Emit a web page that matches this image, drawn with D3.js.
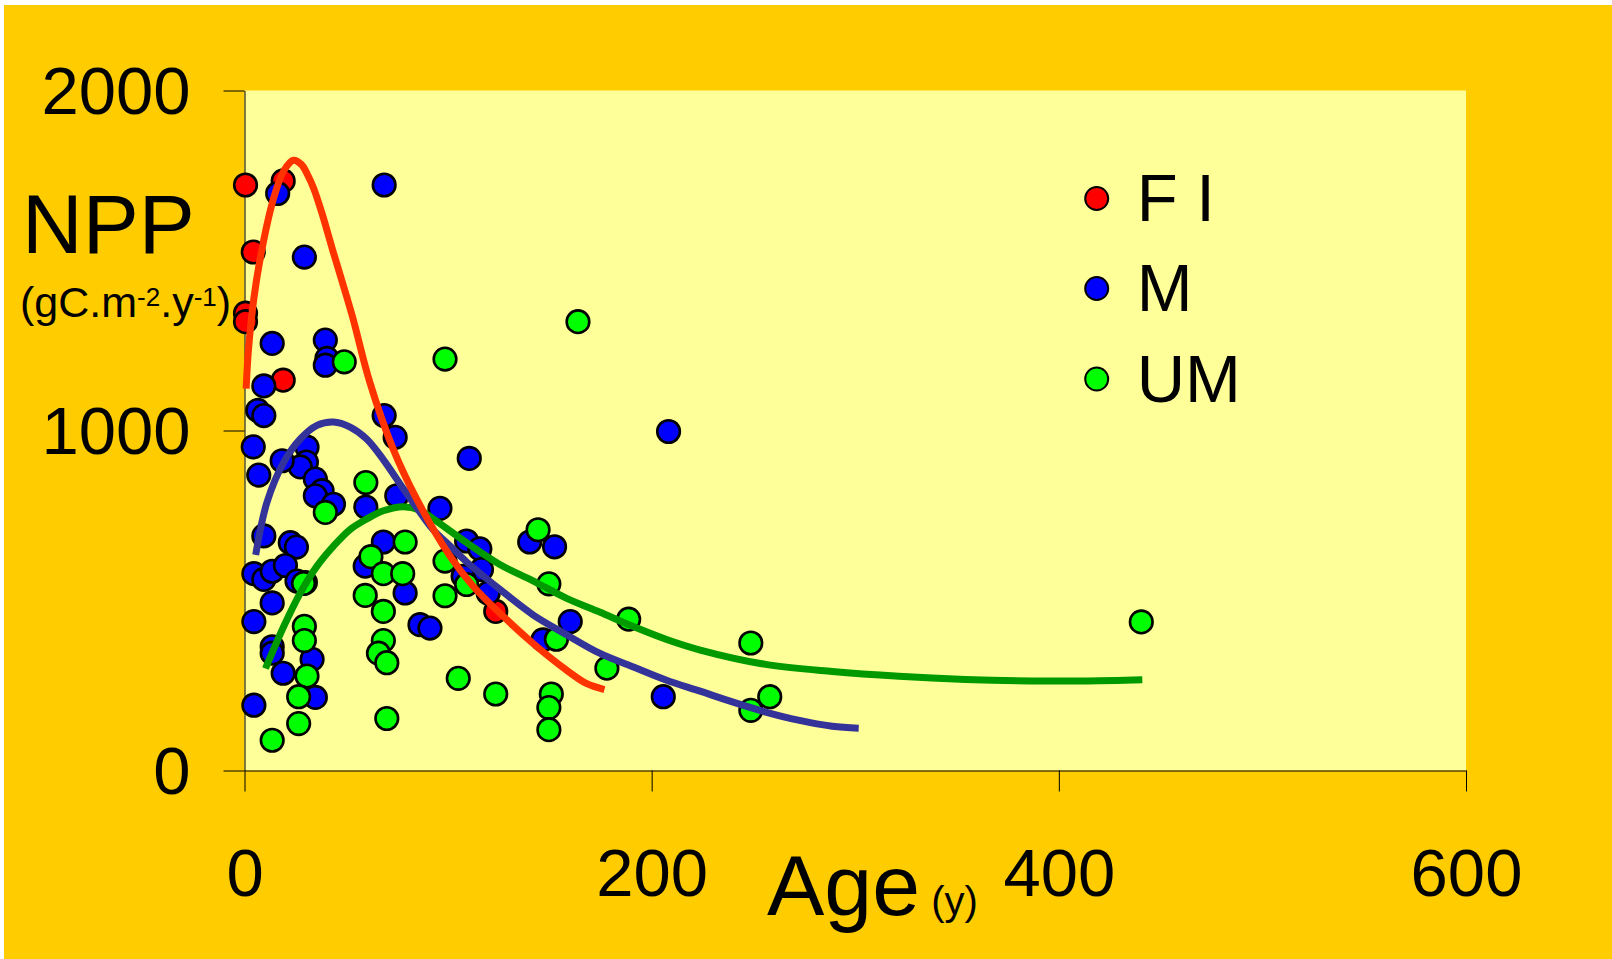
<!DOCTYPE html>
<html>
<head>
<meta charset="utf-8">
<script src="https://cdn.jsdelivr.net/npm/d3@7/dist/d3.min.js"></script>
<style>
  html, body { margin: 0; padding: 0; background: #ffffff; }
  svg { display: block; }
  text { font-family: "Liberation Sans", Arial, sans-serif; fill: #000; }
</style>
</head>
<body>
<svg id="chart" width="1612" height="959"></svg>
<script>
// ---------- data (age in years, NPP in gC.m-2.y-1) ----------
const seriesNames = ["F I", "M", "UM"];

const fiPoints = [
  [0.5, 1722], [19, 1734], [4.3, 1525], [0.5, 1345], [0.5, 1320], [19, 1148], [123.4, 468]
];

const mPoints = [
  [16.3, 1697], [68.6, 1722], [29.4, 1510], [13.6, 1256], [39.7, 1266], [40.5, 1212],
  [39.7, 1192], [9.5, 1131], [6.5, 1059], [9.5, 1044], [68.6, 1044], [74, 980],
  [4.3, 952], [30.7, 951], [30.4, 907], [27.4, 893], [18.5, 911], [7, 869],
  [34.8, 857], [38.1, 823], [34.8, 808], [43.7, 783], [110.4, 918], [59.6, 775],
  [74.8, 808], [96, 771], [208.3, 997], [9.5, 690], [22.5, 670], [25.5, 657],
  [4.6, 579], [9.5, 562], [13.6, 586], [20.1, 603], [25.8, 557], [29.9, 553],
  [13.6, 493], [4.6, 438], [13.6, 364], [13.6, 345], [19, 286], [33.2, 327],
  [34.8, 215], [4.6, 192], [68.2, 672], [59.3, 601], [78.9, 522], [86.2, 429],
  [91.1, 419], [109.1, 675], [115.6, 652], [116.4, 591], [107.4, 571], [119.7, 522],
  [140.1, 672], [152.3, 658], [160, 438], [146.6, 384], [205.7, 217]
];

const umPoints = [
  [49, 1202], [98.5, 1210], [163.8, 1320], [59.6, 847], [39.7, 759], [29, 550],
  [29.4, 424], [29.4, 382], [30.7, 278], [26.6, 217], [26.6, 138], [13.6, 89],
  [69.9, 153], [78.9, 672], [62.1, 629], [68.2, 579], [77.7, 579], [59.3, 515],
  [68.2, 468], [68.2, 382], [65.8, 345], [69.9, 317], [105, 271], [98.5, 616],
  [98.5, 514], [109.1, 547], [123.4, 225], [144.2, 708], [149.5, 549], [153.2, 386],
  [188.7, 445], [248.7, 375], [178, 301], [258, 217], [248.7, 177], [150.7, 225],
  [149.5, 185], [149.5, 120], [440.5, 437]
];

// fitted curves
const fiCurve = [
  [0.8, 1123], [2, 1241], [4.6, 1389], [8.7, 1537], [14.4, 1685], [19.3, 1764],
  [24, 1795], [28, 1782], [31, 1752], [34, 1712], [38, 1640], [43, 1537], [52.8, 1340],
  [61.5, 1143], [73, 946], [84.6, 798], [101, 630], [112.3, 542], [125.4, 463],
  [141.7, 374], [158, 296], [167.9, 256], [176.8, 238]
];

const mCurve = [
  [5.5, 634], [11, 788], [19.3, 907], [27.4, 975], [35.6, 1015], [43.7, 1025],
  [51.9, 1010], [60, 975], [68, 916], [76.4, 843], [84.6, 773], [92.7, 708],
  [101, 660], [109, 614], [125.4, 533], [141.7, 458], [158, 400], [174.4, 345],
  [190.7, 305], [207, 266], [223.4, 234], [240, 201], [256, 172], [272, 148],
  [288.7, 130], [301.7, 124]
];

const umCurve = [
  [10.3, 300], [19.3, 424], [27.4, 522], [35.6, 601], [43.7, 660], [51.9, 709],
  [60.1, 740], [68.2, 764], [78, 776], [86, 766], [92.7, 740], [109.1, 670],
  [125.4, 606], [141.7, 558], [158, 507], [174.4, 466], [190.7, 424], [207, 386],
  [223.4, 355], [256, 312], [288.7, 291], [321.4, 277], [354, 268], [394, 263],
  [420, 264], [441, 267]
];

const xTicks = [0, 200, 400, 600];
const yTicks = [0, 1000, 2000];

// ---------- drawing ----------
const svg = d3.select("#chart");
const W = 1612, H = 959;

svg.append("rect").attr("x", 0).attr("y", 0).attr("width", W).attr("height", H).attr("fill", "#ffffff");
svg.append("rect").attr("x", 4).attr("y", 5).attr("width", W - 4).attr("height", H - 5).attr("fill", "#FFCC00");

const x = d3.scaleLinear().domain([0, 600]).range([244.5, 1466]);
const y = d3.scaleLinear().domain([0, 2000]).range([770.5, 90.5]);

// plot area
svg.append("rect")
  .attr("x", x(0)).attr("y", y(2000))
  .attr("width", x(600) - x(0)).attr("height", y(0) - y(2000))
  .attr("fill", "#FFFF99");

// axes
const yAxis = d3.axisLeft(y).tickValues(yTicks).tickFormat(d3.format("d"))
  .tickSize(21).tickSizeOuter(0).tickPadding(33);
const xAxis = d3.axisBottom(x).tickValues(xTicks).tickFormat(d3.format("d"))
  .tickSize(21).tickSizeOuter(0).tickPadding(57);

const gy = svg.append("g").attr("transform", `translate(${x(0)},0)`).call(yAxis);
const gx = svg.append("g").attr("transform", `translate(0,${y(0)})`).call(xAxis);

[gx, gy].forEach(g => {
  g.selectAll("path.domain").attr("stroke", "#000").attr("stroke-width", 1);
  g.selectAll(".tick line").attr("stroke", "#000").attr("stroke-width", 1);
  g.selectAll(".tick text")
    .attr("font-family", '"Liberation Sans", Arial, sans-serif')
    .attr("font-size", 67).attr("fill", "#000");
});
gy.selectAll(".tick text").attr("dy", "0.345em");

// axis titles
const yt = svg.append("g");
yt.append("text").attr("x", 22).attr("y", 253).attr("font-size", 84).text("NPP");
const unit = yt.append("text").attr("x", 20).attr("y", 316.5).attr("font-size", 43);
unit.append("tspan").text("(gC.m");
unit.append("tspan").attr("font-size", 26).attr("dy", -11).text("-2");
unit.append("tspan").attr("dy", 11).text(".y");
unit.append("tspan").attr("font-size", 26).attr("dy", -11).text("-1");
unit.append("tspan").attr("dy", 11).text(")");

const xt = svg.append("text").attr("x", 767).attr("y", 915).attr("font-size", 86);
xt.append("tspan").text("Age");
xt.append("tspan").attr("font-size", 40).text(" (y)");

// points
const colors = { fi: "#FF0000", m: "#0000FF", um: "#00FF00" };
const lineColors = { fi: "#FF3300", m: "#333399", um: "#009900" };

function drawPoints(data, color) {
  svg.append("g").selectAll("circle").data(data).enter().append("circle")
    .attr("cx", d => x(d[0])).attr("cy", d => y(d[1]))
    .attr("r", 11.3)
    .attr("fill", color).attr("stroke", "#000").attr("stroke-width", 2.6);
}
drawPoints(fiPoints, colors.fi);
drawPoints(mPoints, colors.m);
drawPoints(umPoints, colors.um);

// curves
const line = d3.line().x(d => x(d[0])).y(d => y(d[1])).curve(d3.curveCatmullRom.alpha(0.5));
function drawCurve(data, color) {
  svg.append("path").datum(data).attr("d", line)
    .attr("fill", "none").attr("stroke", color).attr("stroke-width", 7)
    .attr("stroke-linejoin", "round").attr("stroke-linecap", "butt");
}
drawCurve(umCurve, lineColors.um);
drawCurve(mCurve, lineColors.m);
drawCurve(fiCurve, lineColors.fi);

// legend
const legendY = [198.5, 288.5, 379];
const legendColors = [colors.fi, colors.m, colors.um];
const lg = svg.append("g");
seriesNames.forEach((name, i) => {
  lg.append("circle").attr("cx", 1096.7).attr("cy", legendY[i]).attr("r", 11.5)
    .attr("fill", legendColors[i]).attr("stroke", "#000").attr("stroke-width", 2);
  lg.append("text").attr("x", 1136.7).attr("y", legendY[i] + 22.5)
    .attr("font-size", 67).text(name);
});
</script>
</body>
</html>
